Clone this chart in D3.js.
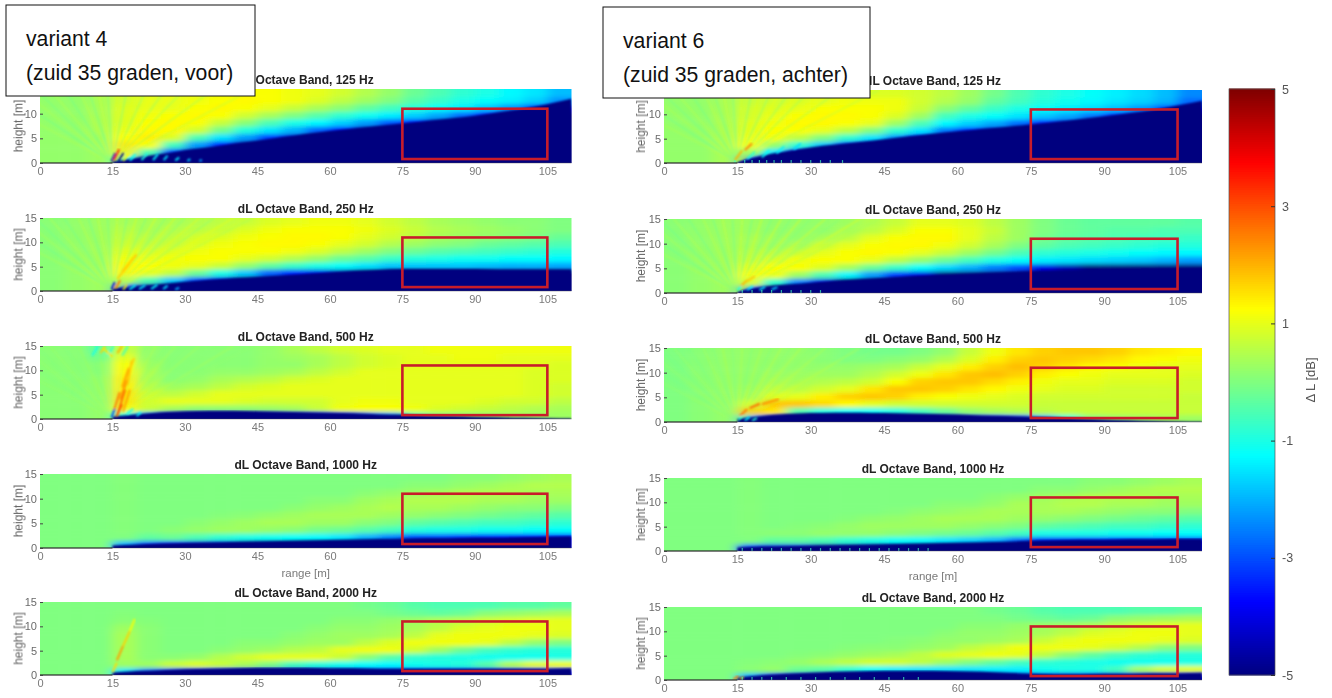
<!DOCTYPE html>
<html><head><meta charset="utf-8">
<script src="https://cdn.jsdelivr.net/npm/d3@7"></script>
<style>html,body{margin:0;padding:0;background:#fff}svg{display:block}text{font-family:"Liberation Sans",Arial,sans-serif}</style>
</head><body><svg id="c" width="1332" height="698"></svg>
<script>
const rangeEdges=[0,5,10,15,20,25,30,35,40,45,50,55,60,65,70,75,80,85,90,95,100,105,110];
const heightEdges=[0,1.5,3,4.5,6,7.5,9,10.5,12,13.5,15];
const shadowRanges=[15,20,25,30,35,40,45,50,55,60,65,70,75,80,85,90,95,100,105,110];
const xTicks=[0,15,30,45,60,75,90,105];
const yTicks=[0,5,10,15];
const cbTicks=[5,3,1,-1,-3,-5];
const bands=[125,250,500,1000,2000];
const regionOfInterest=[75,105,0.8,11];
const fanEnds=[-14,-8,-4,-1,2,5,8,10,12,14,16,18,20,22,24,26,28,30,33,36,40,44];
const fanValues=[.6,-.3,.6,-.3,.7,-.3,.8,-.4,.9,-.4,1,-.4,1.1,-.3,1.2,-.2,1.3,-.1,1.3,0,1.2,.3];

const g0=[.2,.2,.2,.2,.2,.2,.2,.2,.2,.2], z0=[0,0,0,0,0,0,0,0,0,0];
const v4_125=[g0,g0,[.3,.3,.3,.3,.4,.4,.4,.4,.4,.5],[-1,1.4,1.5,1.2,1,.9,.9,.9,.8,.8],[-4.5,-.5,1.2,1.4,1.3,1.2,1.1,1,1,.9],[-5,-3,-.6,.9,1.3,1.3,1.2,1,1,1],[-5,-4.5,-2.2,-.5,.8,1.2,1.3,1.2,1.1,1],[-5,-5,-3.5,-1.5,-.1,.7,1.2,1.3,1.2,1.1],[-5,-5,-4.5,-2.2,-.9,.1,.8,1.2,1.3,1.2],[-5,-5,-5,-3.2,-1.5,-.5,.4,1,1.2,1.2],[-5,-5,-5,-4.2,-2,-1,0,.7,1.1,1.1],[-5,-5,-5,-5,-2.8,-1.3,-.4,.4,.9,1],[-5,-5,-5,-5,-3.6,-1.7,-.8,.1,.6,.8],[-5,-5,-5,-5,-4.5,-2.2,-1.1,-.3,.3,.5],[-5,-5,-5,-5,-5,-2.9,-1.4,-.6,0,.2],[-5,-5,-5,-5,-5,-3.6,-1.7,-.9,-.4,-.2],[-5,-5,-5,-5,-5,-4.4,-2.1,-1.2,-.7,-.5],[-5,-5,-5,-5,-5,-5,-2.7,-1.4,-1,-.8],[-5,-5,-5,-5,-5,-5,-3.5,-1.8,-1.2,-1],[-5,-5,-5,-5,-5,-5,-4.4,-2.3,-1.4,-1.3],[-5,-5,-5,-5,-5,-5,-5,-3,-1.7,-1.5],[-5,-5,-5,-5,-5,-5,-5,-4,-2.3,-1.9]];
const v4_250=[[.1,.1,.1,.1,.1,.1,.1,.1,.1,.1],g0,[.3,.3,.3,.3,.3,.3,.3,.3,.3,.3],[-3,.5,1.3,1.3,1.1,.9,.7,.6,.5,.4],[-4.5,-.5,1,1.2,1,.8,.6,.5,.4,.4],[-5,-1.8,.6,1.1,1.1,.9,.7,.6,.5,.4],[-5,-3,-.2,1,1.2,1.1,.9,.8,.6,.5],[-5,-4,-1,.7,1.2,1.2,1.1,.9,.7,.6],[-5,-5,-1.8,.2,1,1.2,1.2,1.1,.9,.7],[-5,-5,-2.8,-.3,.8,1.2,1.3,1.2,1.1,.9],[-5,-5,-3.5,-.7,.5,1.1,1.3,1.3,1.2,1],[-5,-5,-4,-1,.2,.9,1.2,1.3,1.2,1.1],[-5,-5,-4.5,-1.2,-.2,.6,1,1.2,1.2,1.1],[-5,-5,-5,-1.5,-.4,.3,.8,1,1.1,1],[-5,-5,-5,-1.8,-.7,0,.5,.8,.9,.8],[-5,-5,-5,-1.8,-.9,-.2,.3,.6,.7,.6],[-5,-5,-5,-1.8,-1,-.4,.1,.4,.5,.4],[-5,-5,-5,-1.8,-1.1,-.5,0,.3,.4,.3],[-5,-5,-5,-1.9,-1.1,-.6,-.2,.2,.3,.2],[-5,-5,-5,-2,-1.2,-.7,-.3,.1,.2,.1],[-5,-5,-5,-2,-1.2,-.8,-.4,0,.1,.1],[-5,-5,-5,-2.1,-1.3,-.9,-.5,-.2,0,0]];
const v4_500=[[.1,.1,.1,.1,.1,.1,.1,.1,.1,.1],[.1,.1,.1,.1,.1,.1,.1,.1,.1,.1],[.2,.2,.2,.2,.2,.2,.1,.1,-.1,-.3],[-1,1.3,1.5,1.5,1.4,1.4,1.3,1.2,1,.7],[-2,.7,.8,.7,.5,.4,.4,.3,.2,.2],[-4,.4,1,.6,.3,.1,.1,.1,.1,.1],[-4,.2,1,.8,.4,.2,.1,.1,.1,.1],[-4,.2,1,1,.6,.4,.2,.1,.1,.1],[-4.2,.2,.9,1,.8,.5,.2,.1,.1,.1],[-4,.3,.8,1,.9,.6,.3,.2,.2,.2],[-4,.4,.8,1,1,.8,.4,.2,.3,.4],[-3.5,.7,.8,1,1,.9,.6,.4,.4,.6],[-3,1.1,1,1,1,1,.8,.6,.6,.8],[-2.5,1.2,1.1,1,1,1,1,.8,.8,.9],[-2,1.2,1.1,1,1,1,1,.9,.9,1],[-.5,1.1,1,1,1,1,1,1,1,1],[0,.9,1,1,1,1,1,1,1,1.1],[.1,.8,1,1,1,1,1,1,1.1,1.1],[.2,.7,.9,1,1,1,1,1,1.1,1.1],[.3,.6,.8,1,1,1,1,1,1,1.1],[.3,.5,.8,.9,.9,.9,.9,1,1,1.1],[.3,.4,.6,.8,.8,.9,.9,.9,1,1.1]];
const v4_1000=[z0,z0,z0,[-2,0,.05,.05,.05,.05,.05,.05,.05,.05],[-3,-.3,0,0,0,0,0,0,0,0],[-3.5,-.2,.1,0,0,0,0,0,0,0],[-4,-.5,.2,.1,0,0,0,0,0,0],[-4,-.8,.3,.2,.05,0,0,0,0,0],[-4.5,-1,.3,.3,.1,0,0,0,0,0],[-4.5,-1.1,.2,.4,.2,0,0,0,0,0],[-4.7,-1.2,.1,.4,.3,.1,0,0,0,0],[-4.8,-1.3,-.1,.3,.4,.2,.1,0,0,0],[-4.8,-1.5,-.2,.3,.4,.3,.1,0,0,0],[-4.9,-2,-.4,.1,.4,.4,.3,.1,0,0],[-4.9,-2.5,-.6,0,.3,.5,.4,.2,0,0],[-4.9,-3,-.9,-.3,.2,.4,.5,.3,.1,0],[-4.9,-3,-1,-.4,.1,.4,.5,.4,.1,0],[-4.8,-3.3,-1,-.5,0,.3,.5,.5,.2,.1],[-4.7,-3.4,-1.1,-.6,-.1,.2,.4,.5,.3,.1],[-4.6,-3.6,-1.1,-.6,-.2,.1,.4,.5,.4,.2],[-4.4,-3.7,-1.2,-.7,-.3,.1,.3,.4,.5,.3],[-4,-3.7,-1.2,-.8,-.4,0,.3,.4,.5,.4]];
const v4_2000=[z0,z0,z0,[-1.5,.3,.4,.4,.4,.4,.3,.1,.05,0],[-2.5,.3,.1,.1,.1,.1,.1,.05,0,0],[-3,.7,.1,0,0,0,0,0,0,0],[-3.5,.9,.2,0,0,0,0,0,0,0],[-3.8,.7,.5,.1,0,0,0,0,0,0],[-4,.4,.8,.2,.1,0,0,0,0,0],[-4,0,1,.3,.1,0,0,0,0,0],[-4,-.6,1,.5,.2,.1,0,0,0,0],[-4,-.9,1,.6,.3,.2,.1,0,0,0],[-4,-1.1,.7,1,.3,.3,.2,.1,0,0],[-3.8,-1.2,.1,1.1,.6,.3,.2,.1,0,-.1],[-3.8,-1.3,-.4,1.1,.9,.4,.3,.2,-.1,-.2],[-3.8,-1.1,-.8,.8,1.1,.6,.4,.3,-.2,-.4],[-3.8,-1,-.9,.3,1.1,1,.6,.5,-.3,-.5],[-3.8,-.9,-1,-.2,1.1,1.1,.9,.6,-.2,-.5],[-3.8,-.4,-1.1,-.6,1,1.1,1,.8,.1,-.5],[-3.8,.5,-1.1,-.8,.6,1.1,1.1,.9,.2,-.4],[-3.8,1,-1.1,-.9,.2,1,1.1,1,.3,-.4],[-3.8,1.1,-1,-.9,0,.9,1,1,.4,-.3]];

const v6_125=[g0,g0,[.4,.4,.4,.4,.4,.4,.4,.4,.4,.4],[-3,.2,1.2,1,.9,.9,.8,.8,.7,.7],[-5,-1.5,.2,1.1,1.2,1.1,1,.9,.8,.8],[-5,-3.5,-.8,.6,1.2,1.3,1.2,1,.9,.8],[-5,-5,-1.8,0,1,1.3,1.3,1.2,1,.9],[-5,-5,-3,-.8,.6,1.2,1.3,1.2,1.1,.9],[-5,-5,-4,-1.5,0,1,1.2,1.2,1.1,.9],[-5,-5,-5,-2.3,-.8,.3,.9,1.1,1.1,.9],[-5,-5,-5,-3.4,-1.5,-.5,.3,.7,.8,.8],[-5,-5,-5,-4.5,-2.6,-1.3,-.6,.1,.5,.6],[-5,-5,-5,-5,-3.4,-1.7,-1,-.3,.2,.3],[-5,-5,-5,-5,-4.2,-2.1,-1.2,-.7,-.3,-.1],[-5,-5,-5,-5,-5,-2.7,-1.5,-1,-.6,-.5],[-5,-5,-5,-5,-5,-3.4,-1.8,-1.2,-.9,-.8],[-5,-5,-5,-5,-5,-4.2,-2.1,-1.4,-1.1,-1],[-5,-5,-5,-5,-5,-5,-2.6,-1.6,-1.3,-1.2],[-5,-5,-5,-5,-5,-5,-3.3,-1.9,-1.5,-1.4],[-5,-5,-5,-5,-5,-5,-4,-2.3,-1.7,-1.6],[-5,-5,-5,-5,-5,-5,-5,-3,-2,-1.9],[-5,-5,-5,-5,-5,-5,-5,-4,-2.7,-2.4]];
const v6_250=[[.1,.1,.1,.1,.1,.1,.1,.1,.1,.1],g0,[.3,.3,.3,.3,.3,.3,.3,.3,.3,.3],[-3,1,1.2,.9,.6,.5,.4,.4,.3,.3],[-5,-.8,1.1,1.2,.8,.5,.3,.3,.2,.2],[-5,-2.5,.3,1.2,1.1,.7,.4,.2,.2,.2],[-5,-4,-.5,.9,1.2,1,.7,.4,.2,.2],[-5,-5,-1.3,.4,1.2,1.2,1,.6,.4,.3],[-5,-5,-2.2,-.2,1,1.3,1.2,1,.6,.5],[-5,-5,-3.2,-.7,.6,1.2,1.3,1.2,.9,.7],[-5,-5,-4,-1.2,.2,1,1.3,1.3,1.2,1],[-5,-5,-5,-1.6,-.2,.7,1.1,1.3,1.2,1],[-5,-5,-5,-2,-.6,.3,.8,1,1,.9],[-5,-5,-5,-2.5,-1,-.1,.4,.6,.7,.6],[-5,-5,-5,-3,-1.2,-.5,0,.3,.3,.3],[-5,-5,-5,-4,-1.4,-.8,-.3,-.1,0,0],[-5,-5,-5,-4.5,-1.5,-.9,-.5,-.3,-.2,-.2],[-5,-5,-5,-5,-1.6,-1,-.6,-.4,-.3,-.3],[-5,-5,-5,-5,-1.7,-1.1,-.7,-.5,-.4,-.3],[-5,-5,-5,-5,-1.8,-1.2,-.8,-.6,-.4,-.3],[-5,-5,-5,-5,-2,-1.3,-.9,-.6,-.5,-.3],[-5,-5,-5,-5,-2.2,-1.3,-.9,-.7,-.5,-.4]];
const v6_500=[z0,[.1,.1,.1,.1,.1,.1,.1,.1,.1,.1],[.2,.2,.2,.2,.2,.2,.2,.2,.2,.2],[-2,1.8,.8,.4,.3,.2,.2,.2,.2,.2],[-4,1.5,1.8,.9,.6,.4,.3,.2,.2,.2],[-5,-.5,1.8,1,.6,.4,.3,.2,.2,.2],[-5,-1,1.6,1.4,.8,.5,.3,.2,.1,.1],[-5,-1.2,1.3,1.7,1,.6,.3,.2,0,0],[-5,-1.2,1,1.8,1.5,.8,.5,.3,0,-.1],[-5,-1,.8,1.7,1.8,1.2,.8,.4,.1,-.1],[-4.5,-.6,.8,1.4,1.8,1.7,1.1,.7,.2,0],[-4.2,-.2,.8,1.2,1.7,1.8,1.5,1,.5,.2],[-4,.2,.8,1.1,1.5,1.8,1.8,1.4,.9,.7],[-3.5,.4,.8,1,1.3,1.6,1.9,1.7,1.4,1.1],[-3,.5,.8,.9,1.1,1.4,1.7,1.9,1.7,1.5],[-2,.6,.7,.8,1,1.1,1.4,1.7,1.8,1.7],[-1,.7,.7,.8,.9,1,1.2,1.5,1.7,1.8],[0,.7,.7,.8,.9,1,1.1,1.3,1.6,1.8],[.2,.7,.7,.8,.8,.9,1,1.2,1.5,1.7],[.3,.7,.7,.8,.8,.9,1,1.1,1.3,1.5],[.4,.7,.7,.8,.8,.9,1,1,1.2,1.4],[.3,.7,.7,.7,.8,.8,.9,1,1.1,1.3]];
const v6_1000=[z0,z0,z0,[-3,0,.05,.05,.05,.05,.05,.05,.05,.05],[-4,-.3,.1,0,0,0,0,0,0,0],[-4,-.3,.1,.05,0,0,0,0,0,0],[-4.5,-.5,.2,.1,0,0,0,0,0,0],[-4.5,-.8,.2,.2,.05,0,0,0,0,0],[-4.5,-1,.2,.3,.15,0,0,0,0,0],[-4.5,-1.2,.1,.3,.2,.05,0,0,0,0],[-4.8,-1.3,0,.3,.3,.15,0,0,0,0],[-4.8,-1.5,-.1,.3,.4,.2,.1,0,0,0],[-4.8,-1.7,-.2,.2,.4,.3,.1,0,0,0],[-4.9,-2,-.4,.1,.4,.4,.2,.1,0,0],[-4.9,-2.7,-.6,0,.3,.4,.4,.2,0,0],[-4.9,-3.5,-1,-.3,.2,.4,.4,.3,.1,0],[-4.9,-3.5,-1,-.4,.1,.4,.5,.4,.1,0],[-4.8,-3.5,-1,-.5,0,.3,.5,.5,.2,.1],[-4.7,-3.7,-1.1,-.6,-.1,.2,.4,.5,.3,.1],[-4.6,-3.8,-1.1,-.6,-.2,.1,.4,.5,.4,.2],[-4.2,-3.8,-1.2,-.7,-.3,.1,.3,.4,.5,.3],[-3.6,-3.8,-1.2,-.8,-.4,0,.3,.4,.5,.4]];
const v6_2000=[z0,z0,z0,[-2,.1,.05,0,0,0,0,0,0,0],[-3.5,.2,.1,0,0,0,0,0,0,0],[-4,-.2,.2,.05,0,0,0,0,0,0],[-4.2,-.4,.4,.1,0,0,0,0,0,0],[-4.2,-.8,.6,.2,.05,0,0,0,0,0],[-4.5,-1.2,.8,.3,.1,0,0,0,0,0],[-4.5,-1.4,.8,.4,.1,.05,0,0,0,0],[-4.5,-1.5,.6,.6,.2,.1,0,0,0,0],[-4.5,-1.5,.3,.9,.3,.2,.1,0,0,0],[-4.5,-1.5,0,1,.6,.2,.2,.1,0,0],[-4.2,-1.4,-.3,1.1,.8,.3,.2,.1,0,-.1],[-4,-1.4,-.6,1,1.1,.4,.3,.2,-.1,-.2],[-3.8,-1.1,-.8,.6,1.1,.7,.4,.3,-.2,-.4],[-3.8,-1,-.9,.1,1.1,1,.6,.4,-.3,-.5],[-3.8,-1,-1,-.3,1,1.1,.9,.5,-.2,-.5],[-3.8,-.6,-1.1,-.6,.8,1.1,1,.7,.1,-.5],[-3.8,.4,-1.1,-.8,.5,1.1,1.1,.9,.2,-.4],[-3.8,.9,-1.1,-.9,.1,1,1.1,1,.3,-.4],[-3.8,1,-1,-.9,0,.9,1,1,.4,-.3]];

const s4_125=[.3,1,1.8,2.6,3.2,3.9,4.5,5.2,5.9,6.5,7,7.5,8,8.5,9,9.6,10.3,11,11.9,13];
const s4_250=[.5,1,1.4,1.9,2.3,2.6,2.9,3.2,3.5,3.8,4.1,4.3,4.5,4.5,4.5,4.5,4.4,4.4,4.4,4.4];
const s4_500=[.5,1,1.4,1.6,1.7,1.7,1.6,1.5,1.4,1.3,1.2,1,.9,.7,.6,.45,.35,.25,.15,.1];
const s4_1000=[.5,.7,.9,1,1.1,1.2,1.3,1.4,1.5,1.6,1.7,1.8,1.9,2,2,2.1,2.1,2.2,2.3,2.4];
const s4_2000=[.5,.8,1,1.2,1.3,1.4,1.5,1.5,1.5,1.4,1.4,1.3,1.3,1.3,1.3,1.3,1.3,1.3,1.3,1.4];
const s6_125=[.2,1.5,2.4,3.2,3.8,4.3,4.9,5.5,6,6.5,7,7.4,7.9,8.4,9,9.6,10.2,10.9,11.8,12.8];
const s6_250=[.3,1.2,1.7,2.1,2.5,2.8,3.1,3.4,3.6,3.8,4,4.2,4.4,4.5,4.6,4.7,4.8,4.8,4.9,5];
const s6_500=[.6,1.2,1.6,1.8,1.9,1.9,1.8,1.7,1.6,1.5,1.3,1.2,1.05,.9,.7,.5,.35,.2,.1,.05];
const s6_1000=[.7,.9,1,1.1,1.2,1.3,1.4,1.5,1.6,1.7,1.8,1.9,2.1,2.2,2.3,2.3,2.4,2.4,2.5,2.5];
const s6_2000=[.5,1,1.3,1.5,1.7,1.8,1.9,1.9,1.9,1.8,1.7,1.5,1.3,1.2,1.2,1.3,1.3,1.4,1.4,1.5];

// streaks: from-range, from-height, to-range, to-height, value, optional weight
const a4_125=[[14.8,.3,15.6,2,-4.5],[15.3,.6,16.4,2.8,3.4],[16.2,.3,17.3,2,-5],[17.2,.4,18.4,2,1.3],[18.6,.5,19.8,1.8,-1.2],[21,.6,22.2,1.9,-1],[23.4,.6,24.4,1.8,-1.3],[25.6,.6,26.4,1.5,-1.5],[28,.5,28.8,1.1,-1.3],[30.5,.4,31.1,.8,-1.6],[33,.4,33.5,.6,-2]];
const a4_250=[[14.8,.3,15.5,1.8,-4],[15.6,.5,16.6,2.2,2.6],[17.2,.3,18,1.3,1.3],[18.5,.3,19.8,1.2,-1.2],[20.5,.4,21.8,1.2,-1.5],[23,.4,24.3,1.3,-1.3],[25.5,.4,26.4,1.1,-1.6],[28,.3,28.8,.7,-2],[17,4,20,7.5,1.8],[16,2.5,18.5,5.5,1.7]];
const a4_500=[[14.8,.3,15.5,2.2,-3],[15.4,2,16.5,5.5,2.6],[16,.8,17.6,6,2.8],[16.6,4,18,8,2.4],[17.2,1.5,18.6,6,2.2],[17,6.5,18.4,10.5,2.2],[18,7,19,12,1.9],[15.8,.5,17,3,3],[18,1,19.3,2.1,-1],[20,.6,20.9,1.4,-1.2],[10.8,13,12,15,-1],[12.5,13.5,13.5,15,1.7],[14,13,15.2,15,-.7],[16,13.5,17,15,2],[17,13,18.2,15,-.5],[18.5,10,19.5,12.5,1.7],[13,14.6,15,12.8,1.5]];
const a4_1000=[[101,.45,110,.45,-3.6,5]];
const a4_2000=[[15,.6,15.9,2.5,1.6],[15.9,3,17.2,6,2.2],[17.2,6,18.6,9,1.7],[18.6,9,19.6,11.5,1.2]];
const a6_125=[[14.5,.6,16,2.6,2],[16.5,2.6,18,4,2.5],[17,.8,18.6,2.2,-1],[20,1.2,21.6,2.6,-1.2],[23,2,24.6,3.4,-1.4],[26.5,2.8,28,4,-1.6]];
const a6_250=[[15.5,1.2,17,2.6,2],[17,2.4,18.6,3.4,1.8],[15,.5,15.8,1.4,-1],[17,.6,18.2,1.4,-1.3],[19.5,.6,20.7,1.3,-1.5],[22,.7,23.2,1.2,-1.8]];
const a6_500=[[15.5,1.2,17,2.6,2.6],[17.5,2.8,19.6,3.7,2.8],[20,3.6,23.5,4.6,2.4],[15.2,.4,16,1.2,-1],[16.5,.3,17.5,1,-1.2],[18,.3,19,.8,-.9]];
const a6_1000=[[100,.5,110,.5,-3.4,5]];
const a6_2000=[[14.2,.1,15.2,.8,2.6],[15.5,.2,16.3,.6,1.8]];
// small light notches along the ground
const d6_125=[14.5,16.5,18,19.5,21,22.5,24,26,28,30,32,34,36.5];
const d6_250=[16,18,20,22,24,26,28,30,32];
const d6_1000=[16,18,20,22,24,26,28,30,32,34,36,38,40,42,44,46,48,50,52,54];
const d6_2000=[16,18,20,22,25,28,31,34,37,40,43,46,49,52];

const jet=d3.scaleLinear().domain([-5,-3.75,-1.25,1.25,3.75,5]).range(["#00007f","#0000ff","#00ffff","#ffff00","#ff0000","#7f0000"]).clamp(true);

const panelRows=[
 {left:{grid:v4_125,shadow:s4_125,streaks:a4_125,fan:1,dots:[]},right:{grid:v6_125,shadow:s6_125,streaks:a6_125,fan:1,dots:d6_125}},
 {left:{grid:v4_250,shadow:s4_250,streaks:a4_250,fan:1,dots:[]},right:{grid:v6_250,shadow:s6_250,streaks:a6_250,fan:1,dots:d6_250}},
 {left:{grid:v4_500,shadow:s4_500,streaks:a4_500,fan:.35,dots:[]},right:{grid:v6_500,shadow:s6_500,streaks:a6_500,fan:.5,dots:[]}},
 {left:{grid:v4_1000,shadow:s4_1000,streaks:a4_1000,fan:0,dots:[]},right:{grid:v6_1000,shadow:s6_1000,streaks:a6_1000,fan:0,dots:d6_1000}},
 {left:{grid:v4_2000,shadow:s4_2000,streaks:a4_2000,fan:0,dots:[]},right:{grid:v6_2000,shadow:s6_2000,streaks:a6_2000,fan:0,dots:d6_2000}}
];
const layout={
 left:{x0:40,x1:571.5,ylab:18.5,tops:[89,218,346,474,602],bots:[163,291,419,548,675]},
 right:{x0:664,x1:1202,ylab:641,tops:[90,219,348,478,607],bots:[163,293,422,551,680]}
};

const svg=d3.select("#c");
const defs=svg.append("defs");
const blur=defs.append("filter").attr("id","soft").attr("x","-5%").attr("y","-5%").attr("width","110%").attr("height","110%");
blur.append("feGaussianBlur").attr("stdDeviation","6 2");
const fine=defs.append("filter").attr("id","fine").attr("x","-5%").attr("y","-5%").attr("width","110%").attr("height","110%");
fine.append("feGaussianBlur").attr("stdDeviation","1");
const ink=defs.append("filter").attr("id","ink").attr("x","-5%").attr("y","-5%").attr("width","110%").attr("height","110%");
ink.append("feGaussianBlur").attr("stdDeviation","0.3");

let uid=0;
function drawPanel(cfg,L,i){
 const x=d3.scaleLinear().domain([0,110]).range([L.x0,L.x1]);
 const y=d3.scaleLinear().domain([0,15]).range([L.bots[i],L.tops[i]]);
 const id="clip"+(uid++);
 defs.append("clipPath").attr("id",id).append("rect").attr("x",L.x0).attr("y",L.tops[i]).attr("width",L.x1-L.x0).attr("height",L.bots[i]-L.tops[i]);
 const g=svg.append("g");
 const plot=g.append("g").attr("clip-path",`url(#${id})`);
 const cells=plot.append("g").attr("filter","url(#soft)");
 const nc=cfg.grid.length,nr=heightEdges.length-1,pad=30;
 cfg.grid.forEach((col,c)=>{
  cells.selectAll(null).data(col).join("rect")
   .attr("x",c===0?x(rangeEdges[0])-pad:x(rangeEdges[c]))
   .attr("width",x(rangeEdges[c+1])-x(rangeEdges[c])+(c===0||c===nc-1?pad:0)+.5)
   .attr("y",(d,r)=>y(heightEdges[r+1])-(r===nr-1?pad:0))
   .attr("height",(d,r)=>y(heightEdges[r])-y(heightEdges[r+1])+(r===nr-1||r===0?pad:0)+.5)
   .attr("fill",d=>jet(d));
 });
 if(cfg.fan>0){
  plot.append("g").attr("filter","url(#fine)").selectAll("line").data(fanEnds).join("line")
   .attr("x1",x(15)).attr("y1",y(0)).attr("x2",d=>x(d)).attr("y2",y(15))
   .attr("stroke",(d,k)=>jet(fanValues[k])).attr("stroke-width",1.6).attr("stroke-opacity",.36*cfg.fan);
 }
 const area=d3.area().x((d,k)=>x(shadowRanges[k])).y0(y(0)+4).y1(d=>y(d)).curve(d3.curveMonotoneX);
 plot.append("path").datum(cfg.shadow).attr("d",area).attr("fill",jet(-5)).attr("filter","url(#fine)");
 plot.append("g").attr("filter","url(#fine)").selectAll("line.s").data(cfg.streaks).join("line")
  .attr("x1",d=>x(d[0])).attr("y1",d=>y(d[1])).attr("x2",d=>x(d[2])).attr("y2",d=>y(d[3]))
  .attr("stroke",d=>jet(d[4])).attr("stroke-width",d=>d[5]||2).attr("stroke-opacity",.95);
 plot.append("g").selectAll("line.d").data(cfg.dots).join("line")
  .attr("x1",d=>x(d)).attr("x2",d=>x(d)).attr("y1",y(0)).attr("y2",y(.6))
  .attr("stroke",jet(-.6)).attr("stroke-width",1.2).attr("stroke-opacity",.7);
 g.append("line").attr("x1",x(0)).attr("x2",x(110)).attr("y1",y(0)).attr("y2",y(0)).attr("stroke","#555").attr("stroke-width",.8).attr("stroke-opacity",.55);
 g.append("line").attr("x1",x(0)).attr("x2",x(15)).attr("y1",y(0)).attr("y2",y(0)).attr("stroke","#222").attr("stroke-width",1);
 const ax=d3.axisBottom(x).tickValues(xTicks).tickSize(0).tickPadding(4);
 const xg=g.append("g").attr("transform",`translate(0,${L.bots[i]})`).call(ax).attr("filter","url(#ink)");
 xg.select(".domain").remove();
 xg.selectAll("text").attr("font-size",11).attr("fill","#7a7a7a").attr("font-family",'"Liberation Sans",Arial,sans-serif');
 const ay=d3.axisLeft(y).tickValues(yTicks).tickSize(-3).tickPadding(3);
 const yg=g.append("g").attr("transform",`translate(${L.x0},0)`).call(ay).attr("filter","url(#ink)");
 yg.select(".domain").remove();
 yg.selectAll("line").attr("stroke","#444");
 yg.selectAll("text").attr("font-size",11).attr("fill","#6a6a6a").attr("font-family",'"Liberation Sans",Arial,sans-serif');
 const cy=(L.tops[i]+L.bots[i])/2;
 g.append("text").attr("transform",`translate(${L.ylab},${cy}) rotate(-90)`).attr("text-anchor","middle").attr("font-size",12).attr("fill","#666").attr("dy","0.35em").attr("filter","url(#ink)").text("height [m]");
 g.append("text").attr("x",(L.x0+L.x1)/2).attr("y",L.tops[i]-5).attr("text-anchor","middle").attr("font-size",12).attr("font-weight","bold").attr("fill","#222").attr("filter","url(#ink)").text(`dL Octave Band, ${bands[i]} Hz`);
 if(i===3){
  g.append("text").attr("x",(L.x0+L.x1)/2).attr("y",L.bots[i]+29).attr("text-anchor","middle").attr("font-size",11.5).attr("fill","#7a7a7a").attr("filter","url(#ink)").text("range [m]");
 }
 const [a,b,c0,c1]=regionOfInterest;
 g.append("rect").attr("x",x(a)).attr("y",y(c1)).attr("width",x(b)-x(a)).attr("height",y(c0)-y(c1)).attr("fill","none").attr("stroke","#c81e2c").attr("stroke-width",2.6).attr("filter","url(#ink)");
}
panelRows.forEach((row,i)=>{drawPanel(row.left,layout.left,i);drawPanel(row.right,layout.right,i);});

const cbx=1229,cbw=46,cbTop=89,cbBot=675;
const cy=d3.scaleLinear().domain([-5,5]).range([cbBot,cbTop]);
const cbSteps=d3.range(256).map(k=>-5+k*10/256);
svg.append("g").selectAll("rect").data(cbSteps).join("rect")
 .attr("x",cbx).attr("width",cbw).attr("y",d=>cy(d+10/256)-.5).attr("height",d=>cy(d)-cy(d+10/256)+1).attr("fill",d=>jet(d+5/256));
svg.append("rect").attr("x",cbx).attr("y",cbTop).attr("width",cbw).attr("height",cbBot-cbTop).attr("fill","none").attr("stroke","#555").attr("stroke-width",.7);
const cbAxis=d3.axisRight(cy).tickValues(cbTicks).tickSize(-4).tickPadding(7).tickFormat(d3.format("d"));
const cbg=svg.append("g").attr("transform",`translate(${cbx+cbw},0)`).call(cbAxis).attr("filter","url(#ink)");
cbg.select(".domain").remove();
cbg.selectAll("line").attr("stroke","#333");
cbg.selectAll("text").attr("font-size",12.5).attr("fill","#555").attr("font-family",'"Liberation Sans",Arial,sans-serif').text(d=>d<0?"-"+(-d):d);
svg.append("text").attr("transform","translate(1310,380) rotate(-90)").attr("text-anchor","middle").attr("dy","0.35em").attr("font-size",13).attr("fill","#555").attr("filter","url(#ink)").text("Δ L [dB]");

const notes=[{x:6,y:5,w:249,h:91,tx:26,l1:"variant 4",l2:"(zuid 35 graden, voor)"},{x:603,y:7,w:267,h:91,tx:623,l1:"variant 6",l2:"(zuid 35 graden, achter)"}];
notes.forEach(n=>{
 svg.append("rect").attr("x",n.x).attr("y",n.y).attr("width",n.w).attr("height",n.h).attr("fill","#fff").attr("stroke","#111").attr("stroke-width",1);
 svg.append("text").attr("x",n.tx).attr("y",n.y+41).attr("font-size",21.2).attr("fill","#111").text(n.l1);
 svg.append("text").attr("x",n.tx).attr("y",n.y+75).attr("font-size",21.2).attr("fill","#111").text(n.l2);
});
</script></body></html>
